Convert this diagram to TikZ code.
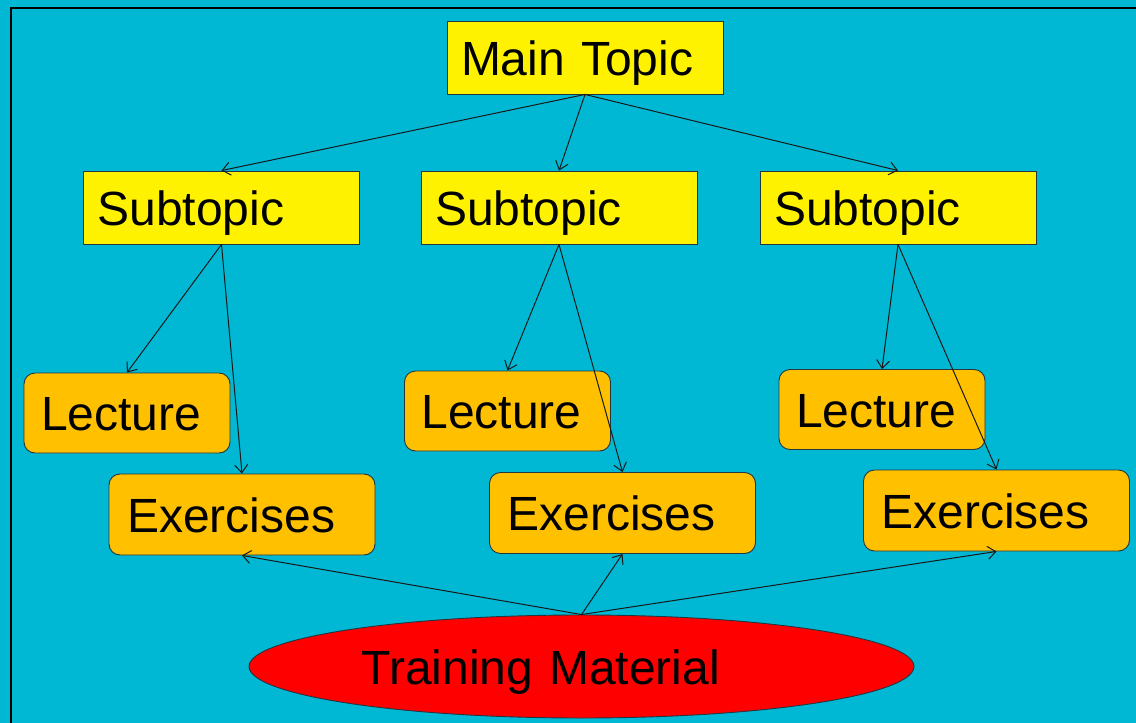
\documentclass[tikz,border=0pt]{standalone}
\usepackage{fontspec}
\setmainfont{Liberation Sans}
\usetikzlibrary{shapes.geometric,arrows.meta}
\definecolor{bg}{RGB}{0,184,212}
\definecolor{edge}{RGB}{35,55,65}
\definecolor{orangebox}{RGB}{255,192,0}
\begin{document}
\begin{tikzpicture}[x=1pt,y=-1pt,
  bigfont/.style={font=\fontsize{48}{56}\selectfont},
  topbox/.style={draw=edge, fill=yellow, line width=0.9pt, minimum height=73pt,
    text width=248pt, align=left, inner xsep=14pt, text height=35pt, text depth=0pt, bigfont},
  lecbox/.style={draw=edge, fill=orangebox, line width=0.9pt, rounded corners=11pt,
    minimum height=80pt, text width=172pt, align=left, inner xsep=17pt,
    text height=35pt, text depth=0pt, bigfont},
  exbox/.style={draw=edge, fill=orangebox, line width=0.9pt, rounded corners=11pt,
    minimum height=81pt, text width=230pt, align=left, inner xsep=18pt,
    text height=35pt, text depth=0pt, bigfont},
  conn/.style={draw=black!90, line width=1pt, -{Straight Barb[length=8pt,width=13pt]}}]
\fill[bg] (0,0) rectangle (1136,723);
\useasboundingbox (0,0) rectangle (1136,723);
\draw[line width=1.6pt] (1160,8) -- (11,8) -- (11,760);

\node[topbox] (main) at (585,57.5) {Main Topic};
\node[topbox] (s1) at (221.5,207.5) {Subtopic};
\node[topbox] (s2) at (559,207.5) {Subtopic};
\node[topbox] (s3) at (898,207.5) {Subtopic};

\node[lecbox] (l1) at (127,413) {Lecture};
\node[lecbox] (l2) at (507.5,411) {Lecture};
\node[lecbox] (l3) at (882,409.5) {Lecture};

\node[exbox] (e1) at (242,514.5) {Exercises};
\node[exbox] (e2) at (622.5,513) {Exercises};
\node[exbox] (e3) at (996.5,510.5) {Exercises};

\node[ellipse, draw=edge, fill=red, line width=0.9pt, minimum width=665pt,
  minimum height=103pt, text width=440pt, inner sep=0pt, align=left,
  text height=35pt, text depth=0pt, bigfont] (tm) at (581.5,666.5) {Training Material};

\draw[conn] (main.south) -- (s1.north);
\draw[conn] (main.south) -- (s2.north);
\draw[conn] (main.south) -- (s3.north);
\draw[conn] (s1.south) -- (l1.north);
\draw[conn] (s1.south) -- (e1.north);
\draw[conn] (s2.south) -- (l2.north);
\draw[conn] (s2.south) -- (e2.north);
\draw[conn] (s3.south) -- (l3.north);
\draw[conn] (s3.south) -- (e3.north);
\draw[conn] (tm.north) -- (e1.south);
\draw[conn] (tm.north) -- (e2.south);
\draw[conn] (tm.north) -- (e3.south);
\end{tikzpicture}
\end{document}
